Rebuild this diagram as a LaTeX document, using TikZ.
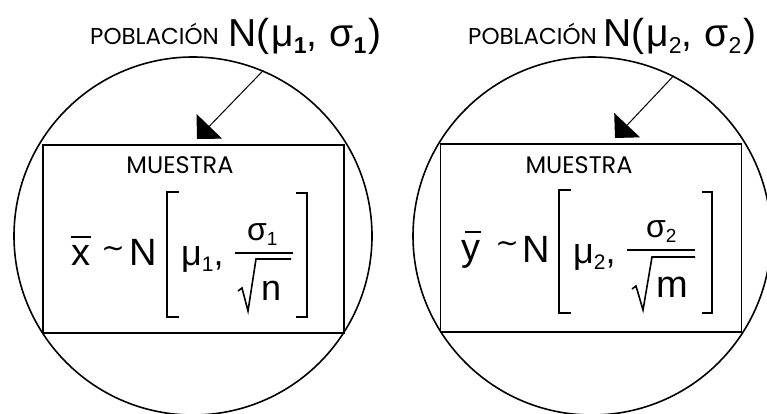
\documentclass[tikz,border=0pt]{standalone}
\usepackage{fontspec}
\setmainfont{Liberation Sans}
\newfontfamily\comic{Poppins}
\newfontfamily\dv{DejaVu Sans}
\usetikzlibrary{arrows.meta}
\newcommand\fs[1]{\fontsize{#1}{#1}\selectfont}
\newcommand\lsub[3]{{\fs{#1}\raisebox{-#2pt}{#3}}}
\begin{document}
\begin{tikzpicture}[x=1pt,y=-1pt,
  frame/.style={draw, line width=1.6pt, inner sep=0pt, minimum width=301pt, minimum height=188pt},
  ring/.style={draw, line width=1.6pt, circle, minimum size=358pt, inner sep=0pt},
  pointer/.style={line width=1pt, -{Triangle[length=17.7pt,width=35.4pt]}},
  brk/.style={line width=1.4pt},
  bar/.style={line width=2pt},
  lbl/.style={font=\comic\fs{23}, inner sep=0pt, anchor=base west},
  head/.style={font=\fs{39}, inner sep=0pt, anchor=base west},
  smp/.style={font=\comic\fs{24}, inner sep=0pt, anchor=base},
  fx/.style={inner sep=0pt, anchor=base west},
  tl/.style={inner sep=0pt, anchor=center, font=\dv\fs{28}}
]
\useasboundingbox (0,0) rectangle (767,414);
\clip (0,0) rectangle (767,414);

% populations
\node[ring] (pop1) at (193,236) {};
\node[ring] (pop2) at (592,236) {};

% samples
\node[frame] (s1) at (193.5,239) {};
\node[frame] (s2) at (591,238) {};

% titles
\node[lbl] (t1) at (90,45) {POBLACIÓN};
\node[head] (h1) at (228,47) {N(\kern2ptμ\lsub{23}{7}{\textbf{1}},\kern12ptσ\lsub{23}{7}{\textbf{1}}\kern2pt)};
\node[lbl] (t2) at (468,45) {POBLACIÓN};
\node[head] (h2) at (603,47) {N(\kern2ptμ\lsub{23}{7}{2},\kern12ptσ\lsub{23}{7}{2}\kern2pt)};

% arrows
\coordinate (tip1) at (197,139);
\coordinate (tip2) at (615,138);
\draw[pointer] (pop1.67) -- (tip1);
\draw[pointer] (pop2.63) -- (tip2);

% MUESTRA
\node[smp] (m1) at (180,173) {MUESTRA};
\node[smp] (m2) at (579,173) {MUESTRA};

% left formula
\node[fx, font=\fs{38}] (xb) at (71,265) {x};
\draw[bar] (71,237) -- (91,237);
\node[tl] (sim1) at (113,252) {∼};
\node[fx, font=\fs{38}] (N1) at (129,265) {N};
\draw[brk] (179,192) -- (167,192) -- (167,317) -- (179,317);
\node[fx, font=\fs{36}] (mu1) at (181,265) {μ\lsub{21}{6}{1},};
\node[fx, font=\fs{32}] (sg1) at (247,240) {σ\lsub{19}{5}{1}};
\draw[brk] (235,253) -- (293,253);
\draw[line width=1.6pt] (238,291) -- (242,288) -- (248,311) -- (256,259) -- (291,259);
\node[fx, font=\fs{36}] (n1) at (261,300) {n};
\draw[brk] (296,193) -- (307,193) -- (307,317) -- (296,317);

% right formula
\node[fx, font=\fs{38}] (yb) at (461,260) {y};
\draw[bar] (465,232) -- (481,232);
\node[tl] (sim2) at (507,247) {∼};
\node[fx, font=\fs{38}] (N2) at (522,262) {N};
\draw[brk] (571,190) -- (559,190) -- (559,313) -- (571,313);
\node[fx, font=\fs{36}] (mu2) at (573,263) {μ\lsub{21}{6}{2},};
\node[fx, font=\fs{32}] (sg2) at (646,237) {σ\lsub{19}{5}{2}};
\draw[brk] (627,250) -- (695,250);
\draw[line width=1.6pt] (632,289) -- (636,286) -- (643,310) -- (652,257) -- (695,257);
\node[fx, font=\fs{38}] (mm) at (656,297) {m};
\draw[brk] (702,192) -- (712,192) -- (712,313) -- (702,313);
\end{tikzpicture}
\end{document}
